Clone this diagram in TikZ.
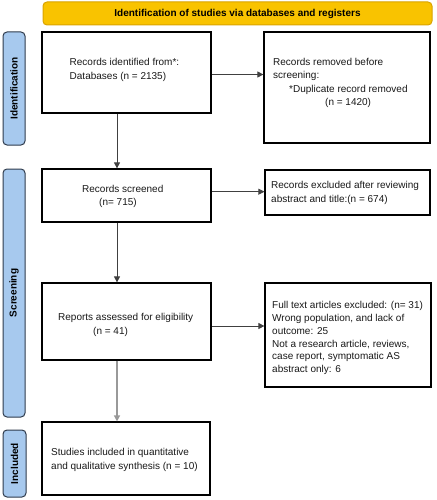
\documentclass[tikz,border=0pt]{standalone}
\usepackage{fontspec}
\setmainfont{Liberation Sans}
\usetikzlibrary{arrows.meta}
\definecolor{bannerfill}{HTML}{F9C300}
\definecolor{bannerdraw}{HTML}{D9A300}
\definecolor{sidefill}{HTML}{A7C9EE}
\definecolor{sidedraw}{HTML}{2F3B4C}
\tikzset{
  box/.style={draw=black, line width=1.2pt, fill=white, inner sep=0pt},
  txt/.style={anchor=north west, inner sep=0pt, align=left, font=\fontsize{10}{13.5}\selectfont, text=black!90},
  side/.style={draw=sidedraw, line width=1pt, fill=sidefill, rounded corners=4pt, inner sep=0pt},
  sidetxt/.style={rotate=90, font=\fontsize{10}{12}\bfseries\selectfont, inner sep=0pt},
  conn/.style={draw=black!75, line width=0.8pt, -{Triangle[length=6pt,width=6pt]}},
}
\begin{document}
\begin{tikzpicture}[x=1pt,y=-1pt]
\useasboundingbox (0,0) rectangle (436,500);
% banner
\node[draw=bannerdraw, line width=1pt, fill=bannerfill, rounded corners=4pt,
  minimum width=389pt, minimum height=23pt, inner sep=0pt,
  font=\fontsize{10}{12}\bfseries\selectfont] (banner) at (237.5,13.5)
  {Identification of studies via databases and registers};
% side labels
\node[side, minimum width=22pt, minimum height=113pt] (sid) at (14,88.5) {};
\node[sidetxt] (sidt) at (sid.center) {Identification};
\node[side, minimum width=22pt, minimum height=248pt] (sscr) at (14,293) {};
\node[sidetxt] (sscrt) at (sscr.center) {Screening};
\node[side, minimum width=23pt, minimum height=67pt] (sinc) at (14.5,463.5) {};
\node[sidetxt] (sinct) at (sinc.center) {Included};
% boxes
\node[box, minimum width=169pt, minimum height=81pt] (b1) at (126.5,72.5) {};
\node[txt] (t1) at (69.5,58.3) {Records identified from*:\\Databases (n = 2135)};
\node[box, minimum width=166pt, minimum height=111pt] (b2) at (347,87.5) {};
\node[txt, font=\fontsize{10}{13.3}\selectfont] (t2) at (273,58) {Records removed before\\screening:\\\hspace*{16pt}*Duplicate record removed\\\hspace*{52pt}(n = 1420)};
\node[box, minimum width=169pt, minimum height=53pt] (b3) at (126.5,195.5) {};
\node[txt, font=\fontsize{10}{13}\selectfont] (t3) at (82,184.6) {Records screened\\\hspace*{17pt}(n= 715)};
\node[box, minimum width=165pt, minimum height=45pt] (b4) at (347.5,192.5) {};
\node[txt, font=\fontsize{10}{14.5}\selectfont] (t4) at (271,180.6) {Records excluded after reviewing\\abstract and title:(n = 674)};
\node[box, minimum width=169pt, minimum height=77pt] (b5) at (126.5,321.5) {};
\node[txt, font=\fontsize{10}{14}\selectfont] (t5) at (58,313) {Reports assessed for eligibility\\\hspace*{35pt}(n = 41)};
\node[box, minimum width=166pt, minimum height=104pt] (b6) at (348,335) {};
\node[txt, font=\fontsize{10}{12.8}\selectfont] (t6) at (272,301.3) {Full text articles excluded: (n= 31)\\Wrong population, and lack of\\outcome: 25\\Not a research article, reviews,\\case report, symptomatic AS\\abstract only: 6};
\node[box, minimum width=168pt, minimum height=73pt] (b7) at (126,458.5) {};
\node[txt, font=\fontsize{10}{13.7}\selectfont] (t7) at (51,448.3) {Studies included in quantitative\\and qualitative synthesis (n = 10)};
% connectors
\coordinate (vx) at (117,0);
\coordinate (h1) at (0,74.5);
\coordinate (h2) at (0,191.7);
\coordinate (h3) at (0,326);
\draw[conn] (b1.south -| vx) -- (b3.north -| vx);
\draw[conn] (b3.south -| vx) -- (b5.north -| vx);
\draw[conn, draw=black!40, line width=1.5pt] (b5.south -| vx) -- (b7.north -| vx);
\draw[conn] (b1.east |- h1) -- (b2.west |- h1);
\draw[conn] (b3.east |- h2) -- (b4.west |- h2);
\draw[conn] (b5.east |- h3) -- (b6.west |- h3);
\end{tikzpicture}
\end{document}
